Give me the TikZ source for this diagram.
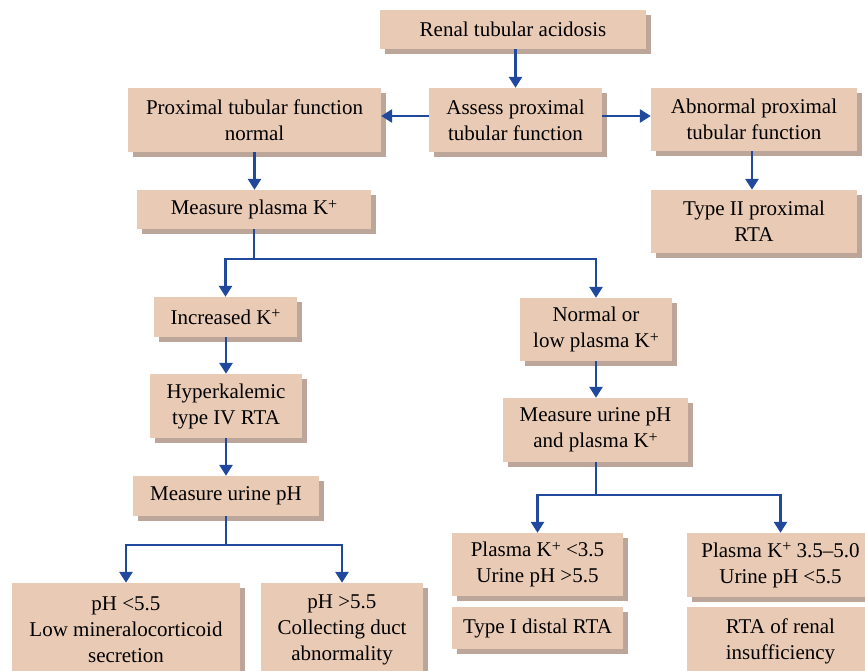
\documentclass[tikz,border=0pt]{standalone}
\usepackage{fontspec}
\setmainfont{Liberation Serif}
\usetikzlibrary{arrows.meta,shadows}
\definecolor{boxfill}{RGB}{233,202,181}
\definecolor{boxshade}{RGB}{187,166,153}
\definecolor{flow}{RGB}{32,72,156}
\newcommand{\Kp}{K\raisebox{5.5pt}{\fontsize{16}{16}\selectfont +}}
\tikzset{
  stepbox/.style={fill=boxfill, draw=none, inner sep=0pt, align=center,
    font=\fontsize{21}{26}\selectfont,
    drop shadow={shadow xshift=5pt, shadow yshift=-5pt, fill=boxshade, opacity=1}},
  flowarrow/.style={draw=flow, line width=2.7pt,
    -{Triangle[width=13pt,length=11pt]}},
  flowline/.style={draw=flow, line width=2.7pt}
}
\begin{document}
\begin{tikzpicture}[x=1pt,y=-1pt]
\useasboundingbox (0,0) rectangle (865,671);

% top level
\node[stepbox, minimum width=266pt, minimum height=39pt] (rta) at (513,29.5) {Renal tubular acidosis};
\node[stepbox, minimum width=173pt, minimum height=64pt] (assess) at (515.5,120) {Assess proximal\\tubular function};
\node[stepbox, minimum width=253pt, minimum height=64pt] (pnorm) at (254.5,120) {Proximal tubular function\\normal};
\node[stepbox, minimum width=206pt, minimum height=63pt] (pabn) at (754,119.5) {Abnormal proximal\\tubular function};
\node[stepbox, minimum width=206pt, minimum height=63pt] (type2) at (754,221.5) {Type II proximal\\RTA};
\node[stepbox, minimum width=234pt, minimum height=39pt] (mplk) at (254,209.5) {Measure plasma \Kp};

% left branch
\node[stepbox, minimum width=143pt, minimum height=40pt] (inck) at (225.5,317) {Increased \Kp};
\node[stepbox, minimum width=152pt, minimum height=64pt] (hyper) at (226,406) {Hyperkalemic\\type IV RTA};
\node[stepbox, minimum width=186pt, minimum height=40pt] (murph) at (226,496) {Measure urine pH};
\node[stepbox, minimum width=228pt, minimum height=94pt] (lowph) at (126,630) {pH <5.5\\Low mineralocorticoid\\secretion};
\node[stepbox, minimum width=162pt, minimum height=94pt] (highph) at (342,630) {pH >5.5\\Collecting duct\\abnormality};

% right branch
\node[stepbox, minimum width=152pt, minimum height=63pt] (normk) at (596,329.5) {Normal or\\low plasma \Kp};
\node[stepbox, minimum width=185pt, minimum height=64pt] (murk) at (595.5,430) {Measure urine pH\\and plasma \Kp};
\node[stepbox, minimum width=171pt, minimum height=63pt] (lowk) at (537.5,564.5) {Plasma \Kp{} <3.5\\Urine pH >5.5};
\node[stepbox, minimum width=171pt, minimum height=42pt] (type1) at (537.5,628) {Type I distal RTA};
\node[stepbox, minimum width=187pt, minimum height=64pt] (midk) at (780.5,565) {Plasma \Kp{} 3.5–5.0\\Urine pH <5.5};
\node[stepbox, minimum width=187pt, minimum height=68pt] (renal) at (780.5,641) {RTA of renal\\insufficiency};

% connectors
\draw[flowarrow] (rta.south -| assess.north) -- (assess.north);
\draw[flowarrow] ([yshift=4pt]assess.west) -- ([yshift=4pt]assess.west -| pnorm.east);
\draw[flowarrow] ([yshift=4pt]assess.east) -- ([yshift=4pt]assess.east -| pabn.west);
\draw[flowarrow] (pnorm.south) -- (mplk.north -| pnorm.south);
\draw[flowarrow] (pabn.south -| 752,0) -- (type2.north -| 752,0);

\draw[flowline] (mplk.south) -- (mplk.south |- 0,259) coordinate (splitk);
\draw[flowarrow] (splitk) -| (inck.north);
\draw[flowarrow] (splitk) -| (normk.north);

\draw[flowarrow] (inck.south -| hyper.north) -- (hyper.north);
\draw[flowarrow] (hyper.south) -- (murph.north);
\draw[flowline] (murph.south) -- (murph.south |- 0,545) coordinate (splitph);
\draw[flowarrow] (splitph) -| (lowph.north);
\draw[flowarrow] (splitph) -| (highph.north);

\draw[flowarrow] (normk.south) -- (murk.north -| normk.south);
\draw[flowline] (murk.south -| normk.south) -- (normk.south |- 0,495) coordinate (splitmk);
\draw[flowarrow] (splitmk) -| (lowk.north);
\draw[flowarrow] (splitmk) -| (midk.north);
\end{tikzpicture}
\end{document}
